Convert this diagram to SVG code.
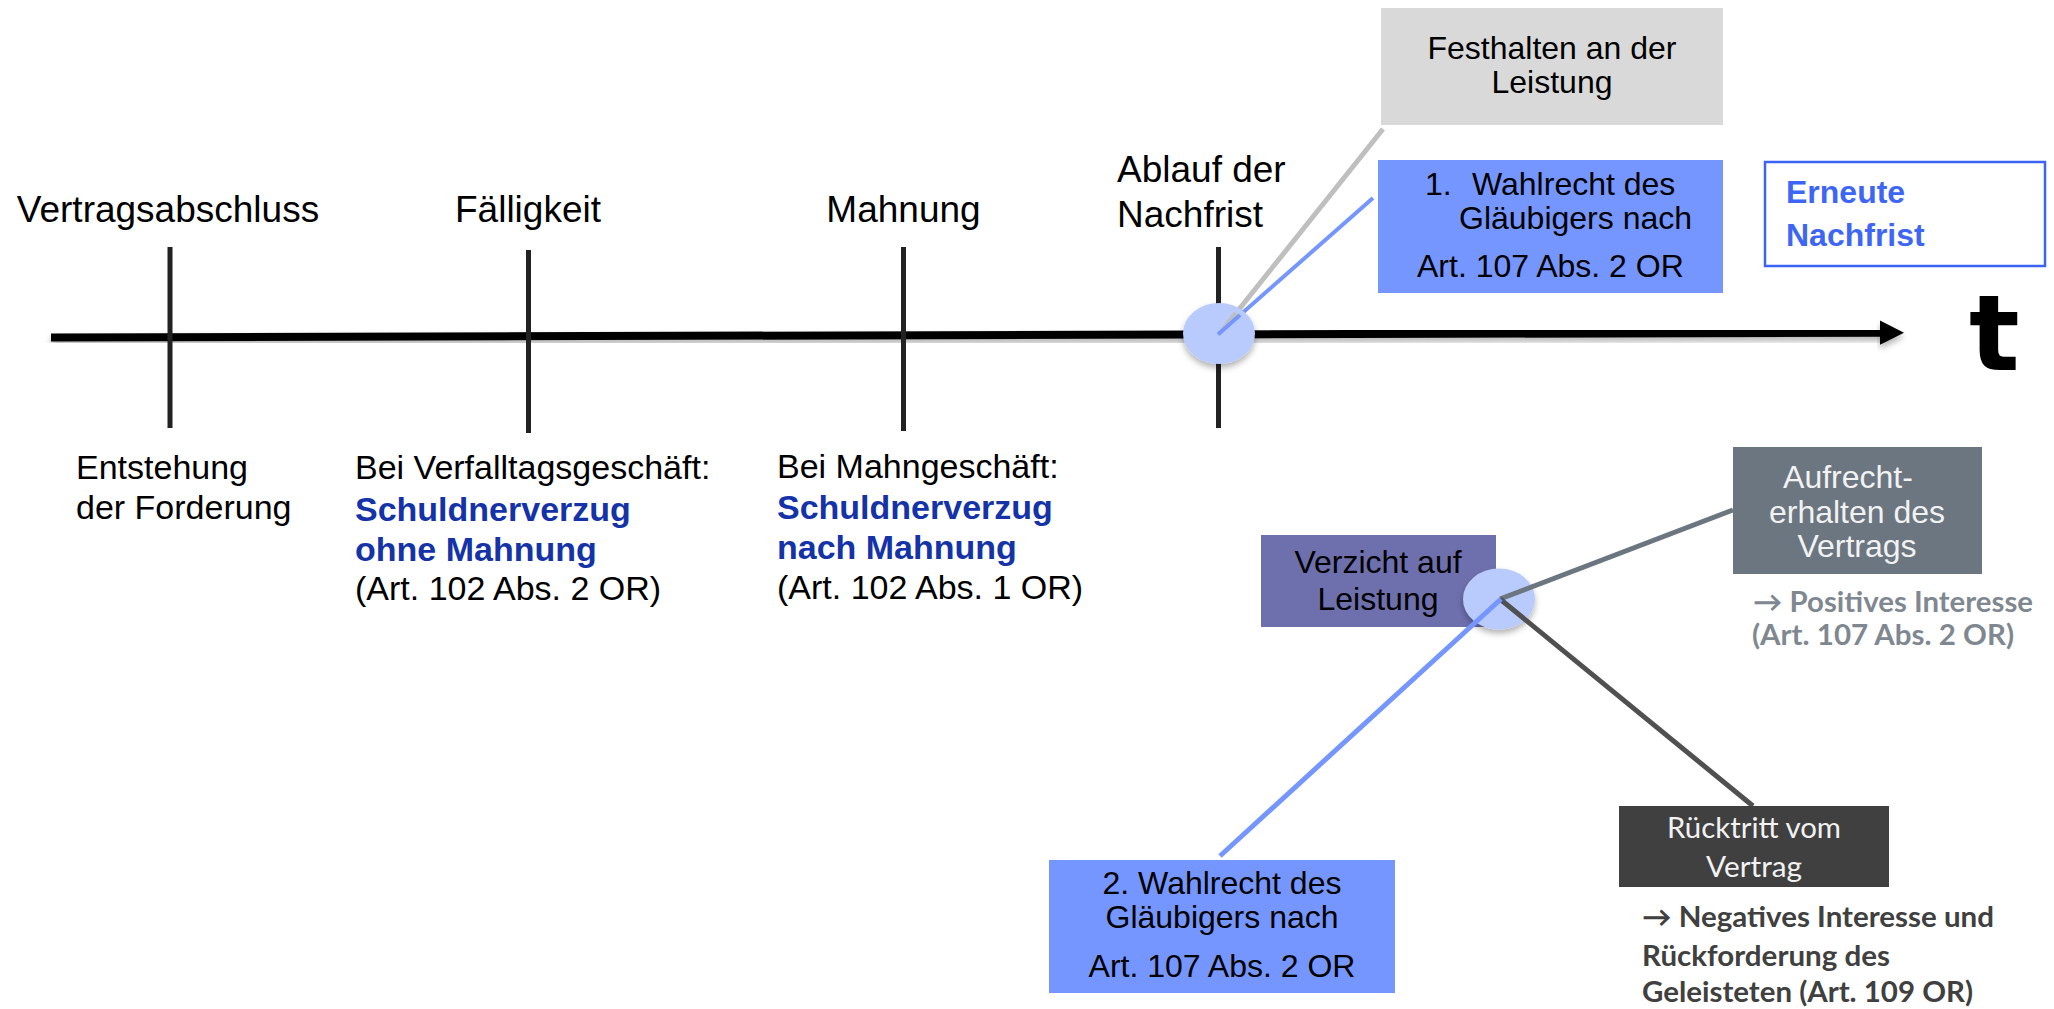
<svg xmlns="http://www.w3.org/2000/svg" width="2054" height="1009" viewBox="0 0 2054 1009">
<style>
.a{font-family:"Liberation Sans",Arial,Helvetica,sans-serif;fill:#000}
.t37{font-size:37px}
.t34{font-size:34px}
.t32{font-size:32px}
.bb{font-weight:bold;fill:#1533a9}
.c{text-anchor:middle}
.cal{font-family:Lato,"Open Sans","Liberation Sans",sans-serif}
.tick{stroke:#222;stroke-width:5}
.dot{fill:#b8cbfc}
</style>
<defs>
<filter id="sh" x="-10%" y="-50%" width="120%" height="250%">
<feDropShadow dx="0" dy="4" stdDeviation="3" flood-color="#000" flood-opacity="0.3"/>
</filter>
</defs>
<rect width="2054" height="1009" fill="#fff"/>

<g id="timeline">
<line x1="51" y1="337.5" x2="1884" y2="332.7" stroke="#000" stroke-width="8" filter="url(#sh)"/>
<polygon points="1880,320.5 1904,332.7 1880,344.8" fill="#000" filter="url(#sh)"/>
<text class="a" x="1969" y="370" style="font-family:'DejaVu Sans',sans-serif;font-weight:bold;font-size:106px">t</text>
</g>

<g id="ticks">
<line class="tick" x1="170" y1="247" x2="170" y2="428"/>
<line class="tick" x1="528.5" y1="250" x2="528.5" y2="433"/>
<line class="tick" x1="903.5" y1="247" x2="903.5" y2="431"/>
<line class="tick" x1="1218.5" y1="247" x2="1218.5" y2="428"/>
</g>

<g id="n-vertragsabschluss">
<text class="a t37 c" x="168" y="222">Vertragsabschluss</text>
<text class="a t34" x="76" y="479">Entstehung</text>
<text class="a t34" x="76" y="519">der Forderung</text>
</g>

<g id="n-faelligkeit">
<text class="a t37 c" x="528" y="222">Fälligkeit</text>
<text class="a t34" x="355" y="479">Bei Verfalltagsgeschäft:</text>
<text class="a t34 bb" x="355" y="521">Schuldnerverzug</text>
<text class="a t34 bb" x="355" y="561">ohne Mahnung</text>
<text class="a t34" x="355" y="600">(Art. 102 Abs. 2 OR)</text>
</g>

<g id="n-mahnung">
<text class="a t37 c" x="903.5" y="222">Mahnung</text>
<text class="a t34" x="777" y="478">Bei Mahngeschäft:</text>
<text class="a t34 bb" x="777" y="519">Schuldnerverzug</text>
<text class="a t34 bb" x="777" y="559">nach Mahnung</text>
<text class="a t34" x="777" y="599">(Art. 102 Abs. 1 OR)</text>
</g>

<g id="n-ablauf">
<text class="a t37" x="1117" y="182">Ablauf der</text>
<text class="a t37" x="1117" y="227">Nachfrist</text>
</g>

<g id="connectors">
<line x1="1221" y1="332" x2="1383" y2="129" stroke="#bfbfbf" stroke-width="5"/>
<line x1="1218" y1="334.5" x2="1373" y2="198" stroke="#7596ff" stroke-width="4"/>
</g>

<g id="n-festhalten">
<rect x="1381" y="8" width="342" height="117" fill="#d9d9d9"/>
<text class="a t32 c" x="1552" y="59">Festhalten an der</text>
<text class="a t32 c" x="1552" y="93">Leistung</text>
</g>

<g id="n-wahlrecht1">
<rect x="1378" y="160" width="345" height="133" fill="#7596fe"/>
<text class="a t32" x="1425" y="195">1.</text>
<text class="a t32" x="1472" y="195">Wahlrecht des</text>
<text class="a t32" x="1459" y="229">Gläubigers nach</text>
<text class="a t32" x="1417" y="277">Art. 107 Abs. 2 OR</text>
</g>

<g id="n-erneute">
<rect x="1765" y="162" width="280" height="104" fill="#fff" stroke="#3b64f4" stroke-width="2.5"/>
<text class="a t32" x="1786" y="203" style="font-weight:bold;fill:#3d66f6">Erneute</text>
<text class="a t32" x="1786" y="246" style="font-weight:bold;fill:#3d66f6">Nachfrist</text>
</g>

<g id="n-verzicht">
<rect x="1261" y="535" width="235" height="92" fill="#6e6fad"/>
<text class="a t32 c" x="1378" y="573">Verzicht auf</text>
<text class="a t32 c" x="1378" y="610">Leistung</text>
</g>

<g id="dots">
<ellipse class="dot" cx="1219" cy="333.5" rx="36" ry="30.5" filter="url(#sh)"/>
<ellipse class="dot" cx="1499" cy="599" rx="36" ry="30.5" filter="url(#sh)"/>
</g>

<g id="connectors2">
<line x1="1221" y1="332" x2="1236" y2="313" stroke="#bfbfbf" stroke-width="5"/>
<line x1="1218" y1="334.5" x2="1240" y2="315" stroke="#7596ff" stroke-width="4"/>
<line x1="1500" y1="599" x2="1733" y2="510" stroke="#6b7681" stroke-width="5"/>
<line x1="1500" y1="599" x2="1753" y2="806" stroke="#505050" stroke-width="5"/>
<line x1="1501" y1="599" x2="1220" y2="856" stroke="#7596ff" stroke-width="5"/>
</g>

<g id="n-aufrecht">
<rect x="1733" y="447" width="249" height="127" fill="#6b7681"/>
<text class="a t32 c" x="1848" y="488" style="fill:#f2f2f2">Aufrecht-</text>
<text class="a t32 c" x="1857" y="523" style="fill:#f2f2f2">erhalten des</text>
<text class="a t32 c" x="1857" y="557" style="fill:#f2f2f2">Vertrags</text>
<text class="cal" x="1753" y="612" font-size="28" font-weight="bold" fill="#7f8891" textLength="280" lengthAdjust="spacingAndGlyphs">→ Positives Interesse</text>
<text class="cal" x="1752" y="645" font-size="28" font-weight="bold" fill="#7f8891" textLength="262" lengthAdjust="spacingAndGlyphs">(Art. 107 Abs. 2 OR)</text>
</g>

<g id="n-ruecktritt">
<rect x="1619" y="806" width="270" height="81" fill="#404040"/>
<text class="cal c" x="1754" y="838" font-size="28" fill="#f2f2f2" textLength="174" lengthAdjust="spacingAndGlyphs">Rücktritt vom</text>
<text class="cal c" x="1754" y="877" font-size="28" fill="#f2f2f2" textLength="96" lengthAdjust="spacingAndGlyphs">Vertrag</text>
<text class="cal" x="1642" y="927" font-size="28" font-weight="bold" fill="#404040" textLength="352" lengthAdjust="spacingAndGlyphs">→ Negatives Interesse und</text>
<text class="cal" x="1642" y="966" font-size="28" font-weight="bold" fill="#404040" textLength="248" lengthAdjust="spacingAndGlyphs">Rückforderung des</text>
<text class="cal" x="1642" y="1002" font-size="28" font-weight="bold" fill="#404040" textLength="331" lengthAdjust="spacingAndGlyphs">Geleisteten (Art. 109 OR)</text>
</g>

<g id="n-wahlrecht2">
<rect x="1049" y="860" width="346" height="133" fill="#7596fe"/>
<text class="a t32 c" x="1222" y="894">2. Wahlrecht des</text>
<text class="a t32 c" x="1222" y="928">Gläubigers nach</text>
<text class="a t32 c" x="1222" y="977">Art. 107 Abs. 2 OR</text>
</g>
</svg>
